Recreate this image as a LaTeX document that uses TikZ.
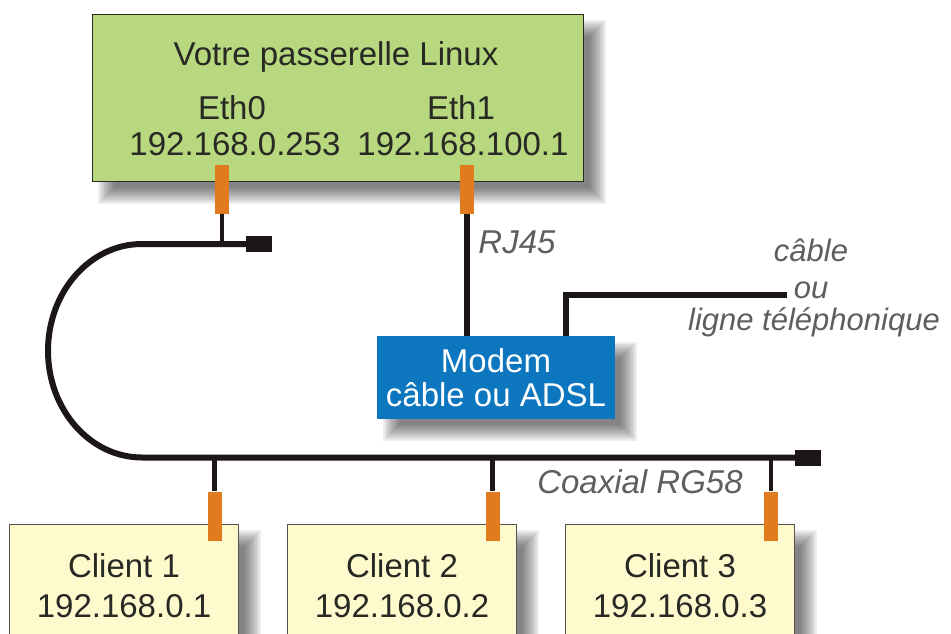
\documentclass[tikz,border=0pt]{standalone}
\usepackage{fontspec}
\setmainfont{Liberation Sans}
\usetikzlibrary{backgrounds,calc}

\definecolor{gwgreen}{RGB}{183,216,126}
\definecolor{cliyellow}{RGB}{255,250,206}
\definecolor{modemblue}{RGB}{12,118,190}
\definecolor{portorange}{RGB}{226,122,30}
\definecolor{ink}{RGB}{40,40,36}
\definecolor{cablecol}{RGB}{28,22,22}

\pgfdeclarelayer{wires}
\pgfsetlayers{background,wires,main}

\tikzset{
  lbl/.style={font=\fontsize{33}{36}\selectfont, text=ink, inner sep=0pt},
  tag/.style={font=\fontsize{31}{34}\selectfont\itshape, text=ink!75, inner sep=0pt},
  gwbox/.style={draw=ink, line width=1pt, fill=gwgreen, inner sep=0pt,
                minimum width=491pt, minimum height=166pt},
  clientbox/.style={draw=ink!80, line width=1pt, fill=cliyellow, inner sep=0pt,
                minimum width=229pt, minimum height=150pt, anchor=north west},
  modembox/.style={fill=modemblue, inner sep=0pt, minimum width=238pt, minimum height=83pt,
                text=white, align=center, font=\fontsize{33}{34}\selectfont},
  port/.style={fill=portorange, inner sep=0pt, minimum width=14pt, minimum height=49pt},
  terminator/.style={fill=cablecol, inner sep=0pt, minimum width=26pt, minimum height=16pt},
  coax/.style={draw=cablecol, line width=6pt},
  drop/.style={draw=cablecol, line width=4.5pt},
  rj/.style={draw=cablecol, line width=6pt},
}

% soft shadow behind a named box
\newcommand\softshadow[1]{%
  \begin{scope}[on background layer]
    \foreach \k in {-8,-6,...,8}{
      \fill[black, opacity=0.07]
        ($(#1.north west)+(14+\k,14+\k)$) rectangle ($(#1.south east)+(14-\k,14-\k)$);
    }
  \end{scope}}

\begin{document}
\begin{tikzpicture}[x=1pt, y=-1pt]
  \useasboundingbox (0,0) rectangle (951,634);

  % gateway
  \node[gwbox] (gw) at (337.5,98) {};
  \softshadow{gw}
  \node[lbl] (gwtitle) at (336,57) {Votre passerelle Linux};
  \node[lbl] (eth0) at (232,108) {Eth0};
  \node[lbl] (eth1) at (461,108) {Eth1};
  \node[lbl] (ip0) at (235,144) {192.168.0.253};
  \node[lbl] (ip1) at (463,144) {192.168.100.1};
  \node[port] (p0) at (222,189) {};
  \node[port] (p1) at (466.5,189) {};

  % modem
  \node[modembox] (modem) at (496,377.5) {Modem\\câble ou ADSL};
  \softshadow{modem}
  \coordinate (mport) at ($(modem.north west)+(189,0)$);
  \coordinate (lineEnd) at (787,295);

  % clients
  \node[clientbox] (c1) at (9,524) {};
  \node[clientbox] (c2) at (287,524) {};
  \node[clientbox] (c3) at (565,524) {};
  \softshadow{c1}
  \softshadow{c2}
  \softshadow{c3}
  \foreach \n/\ip in {1/192.168.0.1, 2/192.168.0.2, 3/192.168.0.3}{
    \node[lbl] (c\n name) at ($(c\n.north)+(0,42)$) {Client \n};
    \node[lbl] (c\n ip) at ($(c\n.north)+(0,82)$) {\ip};
  }
  \node[port] (c1p) at (214.5,516) {};
  \node[port] (c2p) at (492.5,516) {};
  \node[port] (c3p) at (771,516) {};

  % terminators of the coaxial segment
  \node[terminator] (termA) at (259,244) {};
  \node[terminator] (termB) at (807.5,457.5) {};
  \coordinate (bend) at (142,244);

  % cabling
  \begin{pgfonlayer}{wires}
    \draw[drop] (p0.south) -- (p0.south |- termA.center);
    \draw[coax] (termA.center) -- (bend)
      arc[start angle=-90, end angle=-270, x radius=94, y radius=106.75]
      -- (termB.center);
    \draw[drop] (c1p.north |- termB.center) -- (c1p.north);
    \draw[drop] (c2p.north |- termB.center) -- (c2p.north);
    \draw[drop] (c3p.north |- termB.center) -- (c3p.north);
    \draw[rj] (p1.south) -- (p1.south |- modem.north);
    \draw[rj] (mport) |- (lineEnd);
  \end{pgfonlayer}

  % cable labels
  \node[tag, font=\fontsize{33}{35}\selectfont\itshape] (rj45) at (517,242) {RJ45};
  \node[tag, font=\fontsize{33}{35}\selectfont\itshape] (coaxlbl) at (640,482) {Coaxial RG58};
  \node[tag] (wan1) at (811,250) {câble};
  \node[tag] (wan2) at (811,290) {ou};
  \node[tag] (wan3) at (814,322) {ligne téléphonique};
\end{tikzpicture}
\end{document}
